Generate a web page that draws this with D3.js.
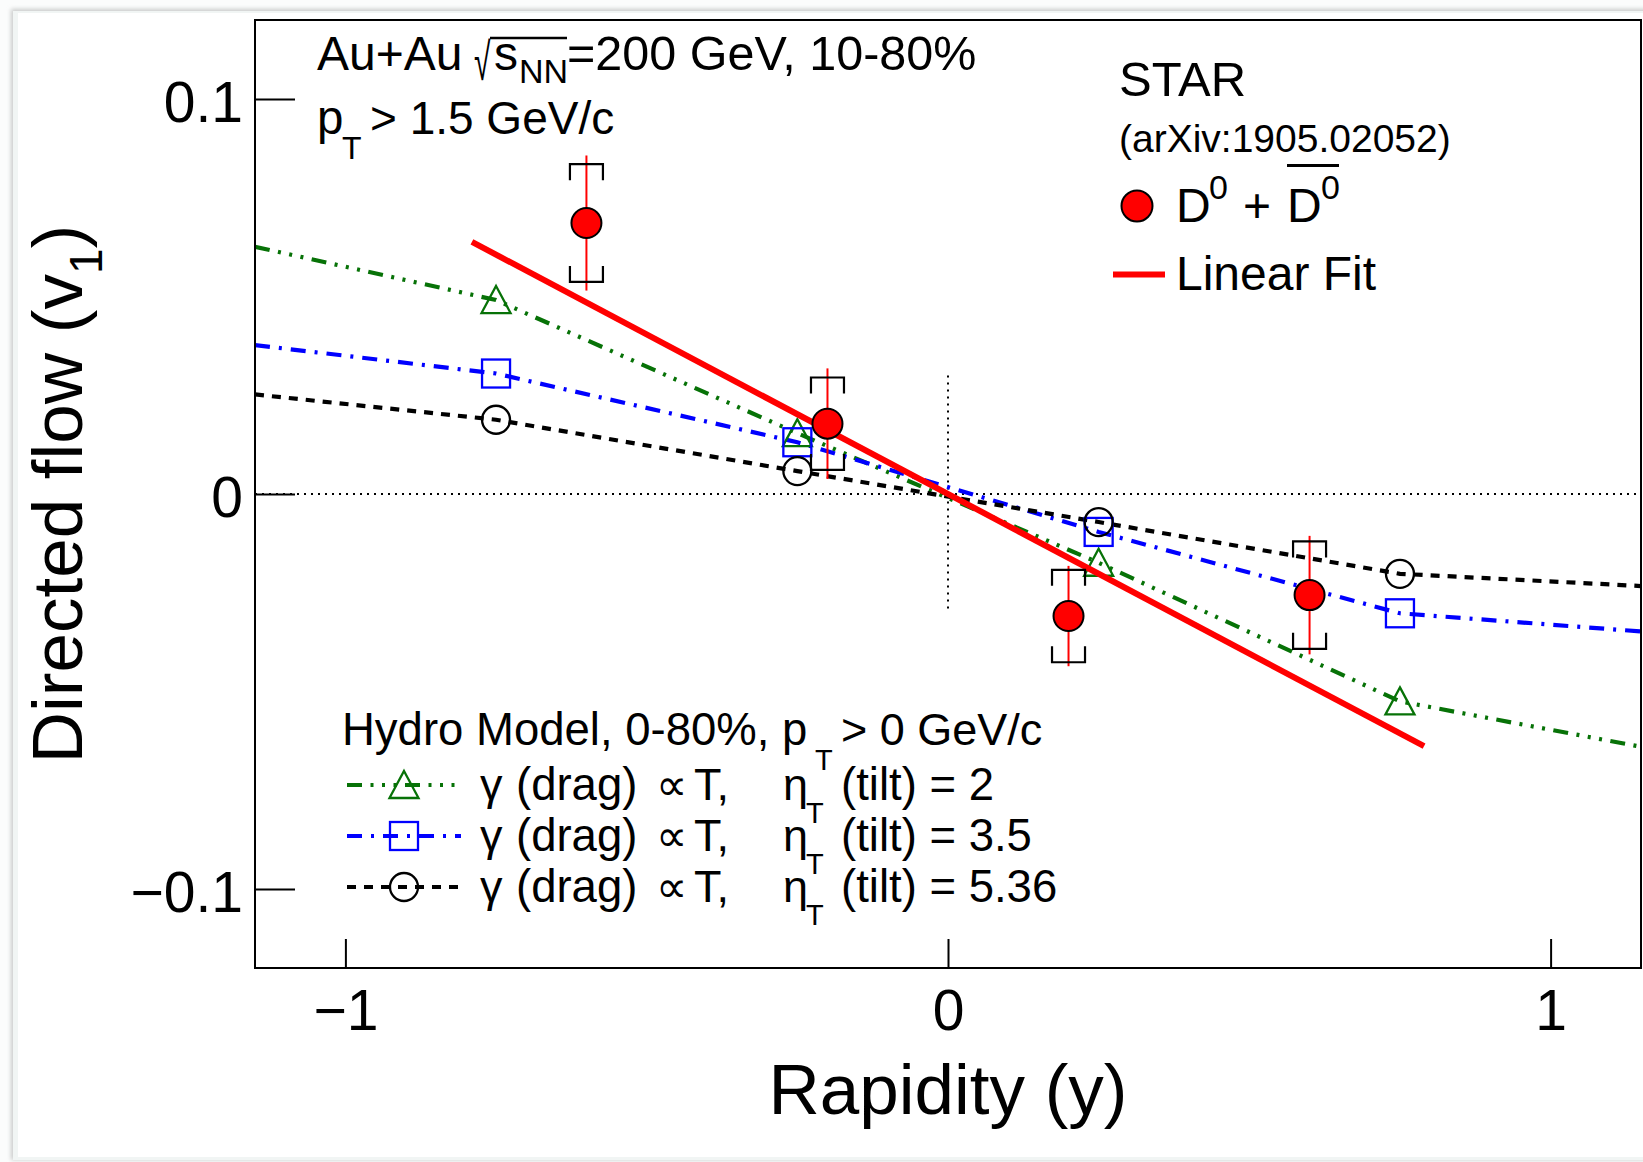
<!DOCTYPE html>
<html>
<head>
<meta charset="utf-8">
<script src="https://cdn.jsdelivr.net/npm/d3@7"></script>
<style>
  html, body { margin: 0; padding: 0; background: #ffffff; }
  svg { display: block; font-family: "Liberation Sans", Arial, Helvetica, "DejaVu Sans", sans-serif; }
  text { white-space: pre; fill: #000; }
</style>
</head>
<body>
<svg id="chart" width="1643" height="1162"></svg>
<script>
// STAR D0 + anti-D0 directed flow vs rapidity, Au+Au 200 GeV, 10-80%
const rapidity = [-0.6, -0.2, 0.2, 0.6];
const v1 = [0.0686, 0.0178, -0.0309, -0.0256];
const statErr = [0.0171, 0.0140, 0.0127, 0.0150];
const sysErr = [0.0149, 0.0117, 0.0117, 0.0136];

// linear fit to the measured points
const fitRange = [-0.79, 0.79];
const fitSlope = -0.0808;
const fitIntercept = 0.0;

// hydro model (gamma ∝ T) for three tilt parameters
const modelY = [-1.15, -0.75, -0.25, 0.25, 0.75, 1.15];
const modelTilt2 = [0.0626, 0.0491, 0.0154, -0.0174, -0.0525, -0.0640];
const modelTilt35 = [0.0377, 0.0305, 0.0131, -0.0096, -0.0302, -0.0348];
const modelTilt536 = [0.0252, 0.0188, 0.0058, -0.0071, -0.0202, -0.0233];
const modelMarkerY = [-0.75, -0.25, 0.25, 0.75];
const modelTiltLabels = ["2", "3.5", "5.36"];

// axes
const xDomain = [-1.15, 1.15];
const yDomain = [-0.12, 0.12];
const xTicks = [-1, 0, 1];
const xTickLabels = ["\u22121", "0", "1"];
const yTicks = [-0.1, 0, 0.1];
const yTickLabels = ["\u22120.1", "0", "0.1"];
const zeroLineX = [-1.15, 1.15];
const zeroLineY = [-0.03, 0.03];

const svg = d3.select("#chart");
const W = 1643, H = 1162;

// canvas edge with a soft shadow
const defs = svg.append("defs");
defs.append("filter").attr("id", "soft").attr("x", "-5%").attr("y", "-5%").attr("width", "110%").attr("height", "110%")
  .append("feGaussianBlur").attr("stdDeviation", 2);
svg.append("rect").attr("width", W).attr("height", H).attr("fill", "#fbfcfc");
svg.append("rect").attr("x", 11).attr("y", 9).attr("width", W).attr("height", 1151)
  .attr("fill", "#c9cbca").attr("filter", "url(#soft)");
svg.append("rect").attr("x", 13).attr("y", 11).attr("width", W).attr("height", 1149)
  .attr("fill", "#f1f5f4");
svg.append("rect").attr("x", 18).attr("y", 13).attr("width", W).attr("height", 1144)
  .attr("fill", "#ffffff");

// plot frame
const frame = { left: 255, right: 1641, top: 20, bottom: 968 };
const x = d3.scaleLinear().domain(xDomain).range([frame.left, frame.right]);
const y = d3.scaleLinear().domain(yDomain).range([frame.bottom, frame.top]);

defs.append("clipPath").attr("id", "plotClip").append("rect")
  .attr("x", frame.left).attr("y", frame.top)
  .attr("width", frame.right - frame.left).attr("height", frame.bottom - frame.top);

// axes with ticks pointing inward
const gx = svg.append("g").attr("transform", `translate(0,${frame.bottom})`)
  .call(d3.axisBottom(x).tickValues(xTicks).tickFormat((d, i) => xTickLabels[i])
    .tickSizeInner(-29).tickSizeOuter(0));
gx.attr("font-size", null).attr("font-family", null);
gx.select(".domain").remove();
gx.selectAll(".tick line").attr("stroke", "#000").attr("stroke-width", 2);
gx.selectAll(".tick text").attr("y", 62).attr("dy", null).attr("font-size", 57).attr("fill", "#000");

const gy = svg.append("g").attr("transform", `translate(${frame.left},0)`)
  .call(d3.axisLeft(y).tickValues(yTicks).tickFormat((d, i) => yTickLabels[i])
    .tickSizeInner(-40).tickSizeOuter(0).tickPadding(12));
gy.attr("font-size", null).attr("font-family", null);
gy.select(".domain").remove();
gy.selectAll(".tick line").attr("stroke", "#000").attr("stroke-width", 2);
gy.selectAll(".tick text").attr("dy", null).attr("y", 22).attr("font-size", 57).attr("fill", "#000");

// dotted reference lines through the origin
const refG = svg.append("g").attr("stroke", "#000").attr("stroke-width", 2).attr("stroke-dasharray", "2,5");
refG.append("line").attr("x1", x(zeroLineX[0])).attr("x2", x(zeroLineX[1])).attr("y1", y(0)).attr("y2", y(0));
refG.append("line").attr("x1", x(0)).attr("x2", x(0)).attr("y1", y(zeroLineY[1])).attr("y2", y(zeroLineY[0]));

// model styles
const models = [
  { values: modelTilt2, color: "#077207", dash: "15,8.5,3,8.5,3,8.5,3,8.5", marker: "triangle" },
  { values: modelTilt35, color: "#0000ff", dash: "15,9,3,9", marker: "square" },
  { values: modelTilt536, color: "#000000", dash: "9,8", marker: "circle" }
];

function drawMarker(g, type, cx, cy, color) {
  if (type === "triangle") {
    g.append("path").attr("d", `M${cx},${cy - 14}L${cx + 14.5},${cy + 13}L${cx - 14.5},${cy + 13}Z`)
      .attr("fill", "none").attr("stroke", color).attr("stroke-width", 2.3);
  } else if (type === "square") {
    g.append("rect").attr("x", cx - 14).attr("y", cy - 14).attr("width", 28).attr("height", 28)
      .attr("fill", "none").attr("stroke", color).attr("stroke-width", 2.3);
  } else {
    g.append("circle").attr("cx", cx).attr("cy", cy).attr("r", 14)
      .attr("fill", "none").attr("stroke", color).attr("stroke-width", 2.3);
  }
}

const line = d3.line().x(d => x(d[0])).y(d => y(d[1]));
const modelG = svg.append("g").attr("clip-path", "url(#plotClip)");
models.forEach(m => {
  const pts = modelY.map((r, i) => [r, m.values[i]]);
  modelG.append("path").attr("d", line(pts)).attr("fill", "none")
    .attr("stroke", m.color).attr("stroke-width", 4.2).attr("stroke-dasharray", m.dash);
});
models.forEach(m => {
  modelY.forEach((r, i) => {
    if (modelMarkerY.includes(r)) drawMarker(modelG, m.marker, x(r), y(m.values[i]), m.color);
  });
});

// linear fit
svg.append("line")
  .attr("x1", x(fitRange[0])).attr("y1", y(fitIntercept + fitSlope * fitRange[0]))
  .attr("x2", x(fitRange[1])).attr("y2", y(fitIntercept + fitSlope * fitRange[1]))
  .attr("stroke", "#ff0000").attr("stroke-width", 6);

// measured points: statistical bars, systematic brackets, markers
const dataG = svg.append("g");
rapidity.forEach((r, i) => {
  const cx = x(r);
  dataG.append("line").attr("x1", cx).attr("x2", cx)
    .attr("y1", y(v1[i] + statErr[i])).attr("y2", y(v1[i] - statErr[i]))
    .attr("stroke", "#ff0000").attr("stroke-width", 2);
  const top = y(v1[i] + sysErr[i]), bot = y(v1[i] - sysErr[i]);
  dataG.append("path").attr("d", `M${cx - 16.5},${top + 16}V${top}H${cx + 16.5}V${top + 16}`)
    .attr("fill", "none").attr("stroke", "#000").attr("stroke-width", 2.2);
  dataG.append("path").attr("d", `M${cx - 16.5},${bot - 16}V${bot}H${cx + 16.5}V${bot - 16}`)
    .attr("fill", "none").attr("stroke", "#000").attr("stroke-width", 2.2);
});
rapidity.forEach((r, i) => {
  dataG.append("circle").attr("cx", x(r)).attr("cy", y(v1[i])).attr("r", 15)
    .attr("fill", "#ff0000").attr("stroke", "#000").attr("stroke-width", 2);
});

// frame on top
svg.append("rect").attr("x", frame.left).attr("y", frame.top)
  .attr("width", frame.right - frame.left).attr("height", frame.bottom - frame.top)
  .attr("fill", "none").attr("stroke", "#000").attr("stroke-width", 2);

// text helper
function txt(g, px, py, s, size, anchor) {
  return g.append("text").attr("x", px).attr("y", py).attr("font-size", size)
    .attr("text-anchor", anchor || "start").text(s);
}
const T = svg.append("g");

// axis titles
txt(T, (frame.left + frame.right) / 2, 1114, "Rapidity (y)", 71, "middle");
const yt = T.append("text").attr("transform", "translate(82,494) rotate(-90)")
  .attr("text-anchor", "middle").attr("font-size", 71);
yt.append("tspan").text("Directed flow (v");
yt.append("tspan").attr("font-size", 46).attr("dy", 20).text("1");
yt.append("tspan").attr("dy", -20).text(")");

// collision system text
txt(T, 317, 70, "Au+Au", 48);
T.append("text").attr("transform", "translate(474,80) scale(0.6,1.05)")
  .attr("font-size", 50).text("\u221A");
txt(T, 494, 70, "s", 48);
txt(T, 519, 83, "NN", 34);
T.append("line").attr("x1", 490).attr("x2", 567).attr("y1", 38).attr("y2", 38)
  .attr("stroke", "#000").attr("stroke-width", 2.5);
txt(T, 567, 70, "=200 GeV, 10-80%", 48.5);
txt(T, 317, 134, "p", 47.5);
txt(T, 342, 159, "T", 32);
txt(T, 370, 134, "> 1.5 GeV/c", 46);

// STAR legend
txt(T, 1119, 96, "STAR", 49);
txt(T, 1119, 152, "(arXiv:1905.02052)", 39);
T.append("circle").attr("cx", 1137).attr("cy", 206).attr("r", 15.5)
  .attr("fill", "#ff0000").attr("stroke", "#000").attr("stroke-width", 2);
txt(T, 1176, 222, "D", 48);
txt(T, 1209, 199, "0", 34);
txt(T, 1243, 222, "+", 48);
txt(T, 1287, 222, "D", 48);
txt(T, 1321, 199, "0", 34);
T.append("line").attr("x1", 1287).attr("x2", 1339).attr("y1", 165.5).attr("y2", 165.5)
  .attr("stroke", "#000").attr("stroke-width", 3);
T.append("line").attr("x1", 1113).attr("x2", 1165).attr("y1", 274.5).attr("y2", 274.5)
  .attr("stroke", "#ff0000").attr("stroke-width", 6);
txt(T, 1176, 290, "Linear Fit", 48);

// model legend
txt(T, 342, 745, "Hydro Model, 0-80%, p", 45.5);
txt(T, 815, 770, "T", 29);
txt(T, 841, 745, "> 0 GeV/c", 45);
const rowBase = [800, 851, 902];
models.forEach((m, i) => {
  const b = rowBase[i], ly = b - 15;
  T.append("line").attr("x1", 347).attr("x2", 461).attr("y1", ly).attr("y2", ly)
    .attr("stroke", m.color).attr("stroke-width", 4.2).attr("stroke-dasharray", m.dash);
  drawMarker(T, m.marker, 404, ly, m.color);
  txt(T, 480, b, "\u03B3", 45);
  txt(T, 516, b, "(drag)", 45.5);
  txt(T, 656, b, "\u221D", 44);
  txt(T, 694, b, "T,", 45);
  txt(T, 783, b, "\u03B7", 45);
  txt(T, 806, b + 23, "T", 29);
  txt(T, 841, b, "(tilt) = " + modelTiltLabels[i], 45.5);
});
</script>
</body>
</html>
